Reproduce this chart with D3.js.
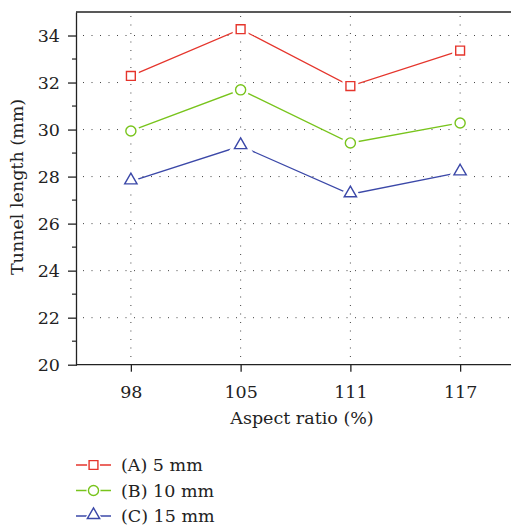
<!DOCTYPE html>
<html>
<head>
<meta charset="utf-8">
<script src="https://cdn.jsdelivr.net/npm/d3@7"></script>
<style>
  body { margin: 0; background: #fff; }
  svg text { font-family: "DejaVu Serif", "Liberation Serif", serif; fill: #222; }
</style>
</head>
<body>
<svg width="511" height="527"></svg>
<script>
const ratios = ["98", "105", "111", "117"];
const seriesNames = ["(A) 5 mm", "(B) 10 mm", "(C) 15 mm"];
const lengthA = [32.28, 34.27, 31.85, 33.36];
const lengthB = [29.94, 31.69, 29.43, 30.28];
const lengthC = [27.8, 29.3, 27.25, 28.18];
const yTicks = [20, 22, 24, 26, 28, 30, 32, 34];
const yMinorTicks = [21, 23, 25, 27, 29, 31, 33];

const colors = ["#e5352c", "#78c41c", "#3b48a8"];
const shapes = [d3.symbolSquare, d3.symbolCircle, d3.symbolTriangle];
const shapeSizes = [78, 80, 66];
const allSeries = [lengthA, lengthB, lengthC];

const svg = d3.select("svg");
const plotL = 76, plotT = 12, plotB = 364.7, plotR = 511;

const x = d3.scalePoint().domain(ratios).range([plotL, 515]).padding(0.5);
const y = d3.scaleLinear().domain([20, 35]).range([plotB, plotT]);

// dotted grid
const grid = svg.append("g")
  .attr("stroke", "#444")
  .attr("stroke-width", 1)
  .attr("stroke-dasharray", "1,7.5");

grid.selectAll(".hg")
  .data(yTicks.slice(1))
  .join("line")
  .attr("x1", plotL + 7).attr("x2", plotR)
  .attr("y1", d => y(d)).attr("y2", d => y(d));

grid.selectAll(".vg")
  .data(ratios)
  .join("line")
  .attr("x1", d => x(d)).attr("x2", d => x(d))
  .attr("y1", plotT + 4).attr("y2", plotB);

// frame top
svg.append("line")
  .attr("x1", plotL).attr("x2", plotR)
  .attr("y1", plotT).attr("y2", plotT)
  .attr("stroke", "#222").attr("stroke-width", 1.3);

// y axis
const yAxis = svg.append("g")
  .attr("transform", `translate(${plotL},0)`)
  .call(d3.axisLeft(y).tickValues(yTicks).tickSize(8).tickPadding(8).tickSizeOuter(0));
yAxis.select(".domain").attr("stroke", "#222").attr("stroke-width", 1.3);
yAxis.selectAll(".tick line").attr("x2", 1).attr("x1", -8).attr("stroke", "#222").attr("stroke-width", 1.3);
yAxis.selectAll(".tick text").attr("font-size", 17.5);

yAxis.selectAll(".minor")
  .data(yMinorTicks)
  .join("line")
  .attr("x1", -4).attr("x2", 0)
  .attr("y1", d => y(d)).attr("y2", d => y(d))
  .attr("stroke", "#222").attr("stroke-width", 1.2);

// x axis
const xAxis = svg.append("g")
  .attr("transform", `translate(0,${plotB})`)
  .call(d3.axisBottom(x).tickSize(7).tickPadding(14).tickSizeOuter(0));
xAxis.select(".domain").attr("d", `M${plotL},0H${plotR}`).attr("stroke", "#222").attr("stroke-width", 1.3);
xAxis.selectAll(".tick line").attr("stroke", "#222").attr("stroke-width", 1.3);
xAxis.selectAll(".tick text").attr("font-size", 17.5);

// axis titles
svg.append("text")
  .attr("transform", "translate(23,187) rotate(-90)")
  .attr("text-anchor", "middle")
  .attr("font-size", 17.5)
  .text("Tunnel length (mm)");

svg.append("text")
  .attr("x", 302).attr("y", 424)
  .attr("text-anchor", "middle")
  .attr("font-size", 17.5)
  .text("Aspect ratio (%)");

// series
const line = d3.line().x((d, i) => x(ratios[i])).y(d => y(d));

allSeries.forEach((vals, s) => {
  const g = svg.append("g");
  g.append("path")
    .attr("d", line(vals))
    .attr("fill", "none")
    .attr("stroke", colors[s])
    .attr("stroke-width", 1.3);
  const sym = d3.symbol().type(shapes[s]).size(shapeSizes[s]);
  const yOff = s === 2 ? -1 : 0;
  g.selectAll(".halo")
    .data(vals)
    .join("path")
    .attr("transform", (d, i) => `translate(${x(ratios[i])},${y(d) + yOff})`)
    .attr("d", sym)
    .attr("fill", "#fff")
    .attr("stroke", "#fff")
    .attr("stroke-width", 7);
  g.selectAll(".mk")
    .data(vals)
    .join("path")
    .attr("transform", (d, i) => `translate(${x(ratios[i])},${y(d) + yOff})`)
    .attr("d", sym)
    .attr("fill", "#fff")
    .attr("stroke", colors[s])
    .attr("stroke-width", 1.4);
});

// legend
const legend = svg.append("g");
const rowY = [465, 490.5, 516];
seriesNames.forEach((name, s) => {
  const r = legend.append("g").attr("transform", `translate(0,${rowY[s]})`);
  r.append("line").attr("x1", 76).attr("x2", 111)
    .attr("stroke", colors[s]).attr("stroke-width", 1.3);
  r.append("path")
    .attr("transform", `translate(93.5,${s === 2 ? -1 : 0})`)
    .attr("d", d3.symbol().type(shapes[s]).size(shapeSizes[s])())
    .attr("fill", "#fff").attr("stroke", "#fff").attr("stroke-width", 4);
  r.append("path")
    .attr("transform", `translate(93.5,${s === 2 ? -1 : 0})`)
    .attr("d", d3.symbol().type(shapes[s]).size(shapeSizes[s])())
    .attr("fill", "#fff").attr("stroke", colors[s]).attr("stroke-width", 1.4);
  r.append("text").attr("x", 121).attr("y", 6)
    .attr("font-size", 17.5)
    .text(name);
});
</script>
</body>
</html>
